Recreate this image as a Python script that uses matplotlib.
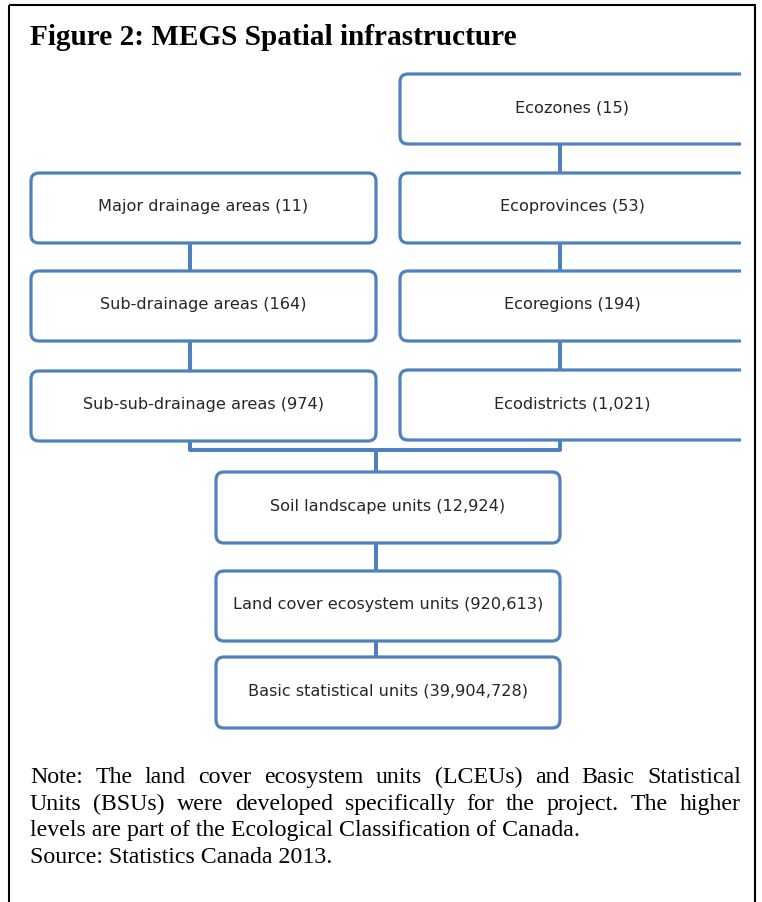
import matplotlib
matplotlib.use("Agg")
import matplotlib.pyplot as plt
from matplotlib.patches import FancyBboxPatch, Rectangle

# box labels
eco_labels = ["Ecozones (15)", "Ecoprovinces (53)", "Ecoregions (194)", "Ecodistricts (1,021)"]
drain_labels = ["Major drainage areas (11)", "Sub-drainage areas (164)", "Sub-sub-drainage areas (974)"]
unit_labels = ["Soil landscape units (12,924)", "Land cover ecosystem units (920,613)",
               "Basic statistical units (39,904,728)"]

title = "Figure 2: MEGS Spatial infrastructure"
note_lines = ["Note: The land cover ecosystem units (LCEUs) and Basic Statistical",
              "Units (BSUs) were developed specifically for the project. The higher",
              "levels are part of the Ecological Classification of Canada.",
              "Source: Statistics Canada 2013."]
note_justify = [True, True, False, False]

blue = "#4f81bd"
txtc = "#262626"

fig = plt.figure(figsize=(7.62, 9.02), dpi=100)
ax = fig.add_axes([0, 0, 1, 1])
ax.set_xlim(0, 762)
ax.set_ylim(902, 0)
ax.axis("off")

# outer frame
ax.add_patch(Rectangle((9, 5), 746, 910, fill=False, ec="black", lw=1.5, zorder=1))

ax.text(30, 45, title, fontsize=21.1, fontweight="bold", family="Liberation Serif",
        va="baseline", ha="left")

clip = Rectangle((0, 0), 741, 902, transform=ax.transData)


def box(x0, y0, x1, y1, label, tx=None, clipped=False):
    p = FancyBboxPatch((x0, y0), x1 - x0, y1 - y0, boxstyle="round,pad=0,rounding_size=8",
                       fc="white", ec=blue, lw=2.3, zorder=3)
    ax.add_patch(p)
    if clipped:
        p.set_clip_path(clip)
    if tx is None:
        tx = (x0 + x1) / 2
    ax.text(tx, (y0 + y1) / 2 - 1, label, ha="center", va="center", fontsize=11.6,
            family="DejaVu Sans", color=txtc, zorder=4)


def link(xs, ys):
    ax.plot(xs, ys, color=blue, lw=2.9, zorder=2, solid_capstyle="butt")


# right column (ecological)
eco_y = [(74, 144), (173, 243), (271, 341), (370, 440)]
for i, lab in enumerate(eco_labels):
    box(400, eco_y[i][0], 760, eco_y[i][1], lab, tx=572, clipped=True)
for i in range(len(eco_y) - 1):
    link([560, 560], [eco_y[i][1], eco_y[i + 1][0]])

# left column (drainage)
drain_y = [(173, 243), (271, 341), (371, 441)]
for i, lab in enumerate(drain_labels):
    box(31, drain_y[i][0], 376, drain_y[i][1], lab)
for i in range(len(drain_y) - 1):
    link([190, 190], [drain_y[i][1], drain_y[i + 1][0]])

# bracket joining the two columns
link([190, 190, 560, 560], [441, 450, 450, 440])

# units column
unit_y = [(472, 543), (571, 641), (657, 728)]
link([376, 376], [450, unit_y[0][0]])
for i, lab in enumerate(unit_labels):
    box(216, unit_y[i][0], 560, unit_y[i][1], lab)
for i in range(len(unit_y) - 1):
    link([376, 376], [unit_y[i][1], unit_y[i + 1][0]])

# note, justified like the source
fig.canvas.draw()
r = fig.canvas.get_renderer()
left, right = 30, 741
base = [783, 810, 836, 863]
for line, just, yb in zip(note_lines, note_justify, base):
    kw = dict(fontsize=17.2, family="Liberation Serif", va="baseline", ha="left", color="black")
    if not just:
        ax.text(left, yb, line, **kw)
        continue
    words = line.split(" ")
    objs = [ax.text(0, yb, w, **kw) for w in words]
    widths = [o.get_window_extent(r).width for o in objs]
    gap = (right - left - sum(widths)) / (len(words) - 1)
    x = left
    for o, w in zip(objs, widths):
        o.set_x(x)
        x += w + gap

fig.savefig("out.png", dpi=100)
